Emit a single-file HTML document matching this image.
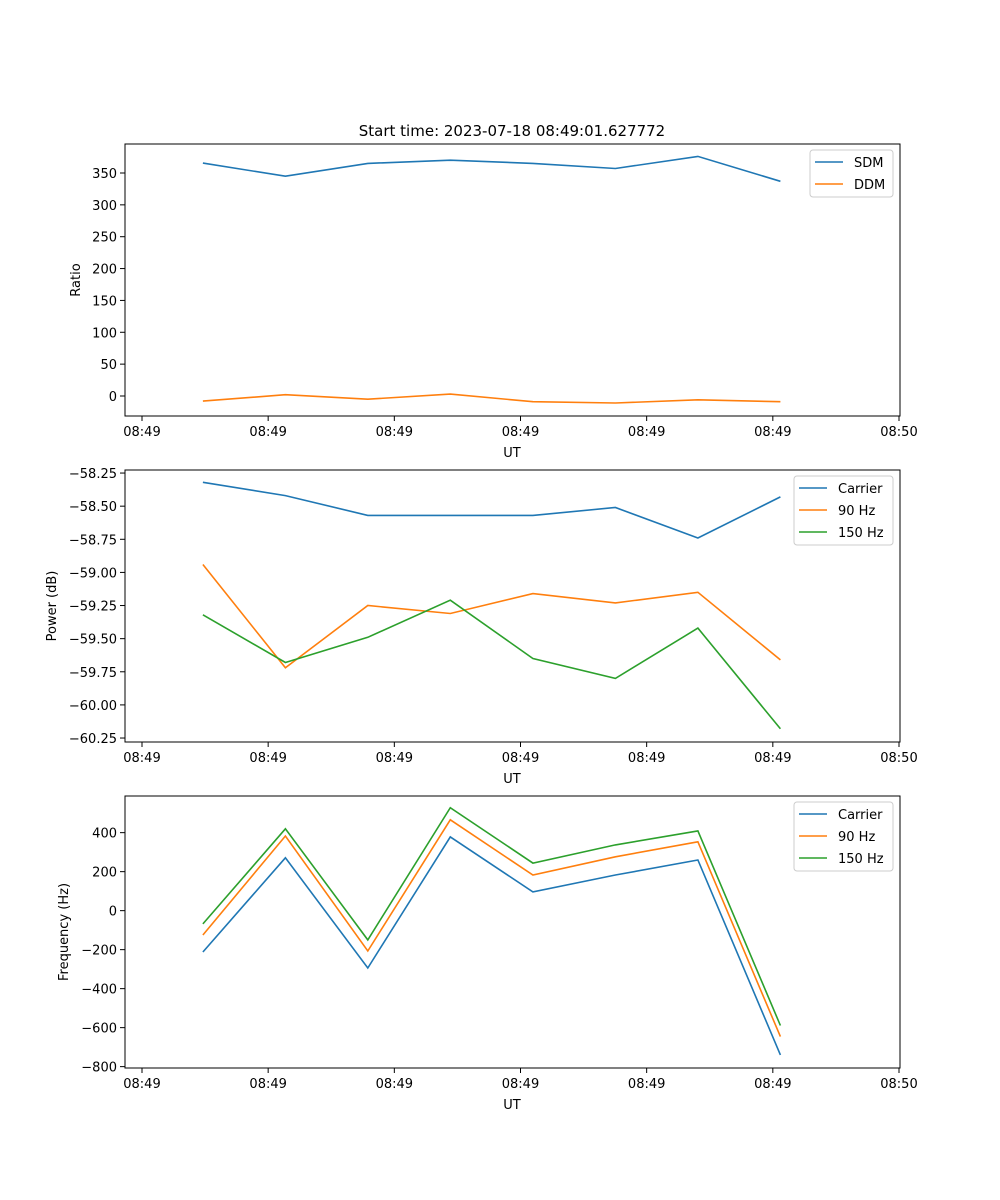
<!DOCTYPE html>
<html><head><meta charset="utf-8">
<style>
body{margin:0;background:#fff;}
svg{display:block;font-family:"DejaVu Sans","Liberation Sans",sans-serif;}
</style></head>
<body>
<svg id="fig" width="1000" height="1200" viewBox="0 0 1000 1200" xmlns="http://www.w3.org/2000/svg">
<rect width="1000" height="1200" fill="#fff"/>
<text x="512" y="136" font-size="15" text-anchor="middle">Start time: 2023-07-18 08:49:01.627772</text>
</svg>
<script>
// shared x data (seconds after 08:49:00)
const times = [4.83, 11.37, 17.9, 24.44, 30.98, 37.52, 44.06, 50.6];
const xTickValues = [0, 10, 20, 30, 40, 50, 60];
const xTickLabels = ["08:49","08:49","08:49","08:49","08:49","08:49","08:50"];

// panel 1
const sdm = [365.6, 345, 365, 370, 365, 357, 376, 337];
const ddm = [-8, 2, -5, 3, -9, -11, -6, -9];
const ratioTicks = [0, 50, 100, 150, 200, 250, 300, 350];
// panel 2
const powCarrier = [-58.32, -58.42, -58.57, -58.57, -58.57, -58.51, -58.74, -58.43];
const pow90 = [-58.94, -59.72, -59.25, -59.31, -59.16, -59.23, -59.15, -59.66];
const pow150 = [-59.32, -59.68, -59.49, -59.21, -59.65, -59.80, -59.42, -60.18];
const powTicks = [-58.25, -58.5, -58.75, -59.0, -59.25, -59.5, -59.75, -60.0, -60.25];
// panel 3
const freqCarrier = [-212, 271, -294, 378, 96, 183, 260, -740];
const freq90 = [-125, 383, -207, 466, 183, 276, 353, -646];
const freq150 = [-68, 420, -150, 528, 244, 337, 409, -589];
const freqTicks = [-800, -600, -400, -200, 0, 200, 400];

const NS = "http://www.w3.org/2000/svg";
const svg = document.getElementById('fig');
const X0 = 125, X1 = 900, xMin = -1.347, xMax = 60.08;
function xs(v){ return X0 + (v - xMin) / (xMax - xMin) * (X1 - X0); }
function mk(tag, attrs, parent){ const e = document.createElementNS(NS, tag); for (const k in attrs) e.setAttribute(k, attrs[k]); (parent||svg).appendChild(e); return e; }
function fmt(v, dec){ const s = v.toFixed(dec); return s.replace('-', '\u2212'); }

function panel(cfg){
  const g = mk('g', {});
  
  
  const ys = v => cfg.top + (cfg.yMax - v) / (cfg.yMax - cfg.yMin) * (cfg.bottom - cfg.top);
  xTickValues.forEach((t, i) => {
    const x = xs(t);
    const tk = mk('line', {x1:x, x2:x, y1:cfg.bottom, y2:cfg.bottom+5, stroke:'#000', 'stroke-width':1}, g);
    
    
    const tl = mk('text', {x:x, y:cfg.bottom+20, 'font-size':13, 'text-anchor':'middle'}, g);
    tl.textContent = xTickLabels[i];
    
    
  });
  const xt = mk('text', {x:512, y:cfg.bottom+41, 'font-size':13, 'text-anchor':'middle'}, g);
  xt.textContent = 'UT';
  
  
  cfg.ticks.forEach(t => {
    const y = ys(t);
    const tk = mk('line', {x1:X0, x2:X0-5, y1:y, y2:y, stroke:'#000', 'stroke-width':1}, g);
    
    
    const tl = mk('text', {x:X0-8, y:y+5, 'font-size':13, 'text-anchor':'end'}, g);
    tl.textContent = fmt(t, cfg.dec);
    
    
  });
  const yt = mk('text', {x:0, y:0, 'font-size':13, 'text-anchor':'middle', transform:`translate(${cfg.yTitleX},${(cfg.top+cfg.bottom)/2}) rotate(-90)`}, g);
  yt.textContent = cfg.yTitle;
  
  
  cfg.series.forEach(s => {
    const pts = s.data.map((v, i) => xs(times[i]).toFixed(1) + ',' + ys(v).toFixed(1)).join(' ');
    const pl = mk('polyline', {points:pts, fill:'none', stroke:s.color, 'stroke-width':1.6}, g);
    
    
  });
  const fr = mk('rect', {x:X0, y:cfg.top, width:X1-X0, height:cfg.bottom-cfg.top, fill:'none', stroke:'#000', 'stroke-width':1}, g);
  
  
  const L = cfg.legend;
  const lg = mk('g', {}, g);
  
  
  mk('rect', {x:L.x, y:L.y, width:L.w, height:3+22*cfg.series.length, rx:3, fill:'#fff', 'fill-opacity':0.8, stroke:'#ccc', 'stroke-width':1}, lg);
  cfg.series.forEach((s, i) => {
    const yy = L.y + 12 + 22*i;
    const ln = mk('line', {x1:L.x+5, x2:L.x+33, y1:yy, y2:yy, stroke:s.color, 'stroke-width':1.6}, lg);
    
    
    const tx = mk('text', {x:L.x+44, y:yy+5, 'font-size':13}, lg);
    tx.textContent = s.label;
    
    
  });
}

panel({name:'ratio-panel', top:144, bottom:416, yMin:-31.4, yMax:395.5, ticks:ratioTicks, dec:0, yTitle:'Ratio', yTitleX:80,
  series:[{id:'sdm-line', label:'SDM', color:'#1f77b4', data:sdm},{id:'ddm-line', label:'DDM', color:'#ff7f0e', data:ddm}],
  legend:{x:810, y:150, w:83}});
panel({name:'power-panel', top:470, bottom:742, yMin:-60.28, yMax:-58.227, ticks:powTicks, dec:2, yTitle:'Power (dB)', yTitleX:56,
  series:[{id:'power-carrier-line', label:'Carrier', color:'#1f77b4', data:powCarrier},{id:'power-90hz-line', label:'90 Hz', color:'#ff7f0e', data:pow90},{id:'power-150hz-line', label:'150 Hz', color:'#2ca02c', data:pow150}],
  legend:{x:794, y:476, w:99}});
panel({name:'frequency-panel', top:796, bottom:1068, yMin:-807, yMax:588, ticks:freqTicks, dec:0, yTitle:'Frequency (Hz)', yTitleX:68,
  series:[{id:'freq-carrier-line', label:'Carrier', color:'#1f77b4', data:freqCarrier},{id:'freq-90hz-line', label:'90 Hz', color:'#ff7f0e', data:freq90},{id:'freq-150hz-line', label:'150 Hz', color:'#2ca02c', data:freq150}],
  legend:{x:794, y:802, w:99}});
</script>
</body></html>
